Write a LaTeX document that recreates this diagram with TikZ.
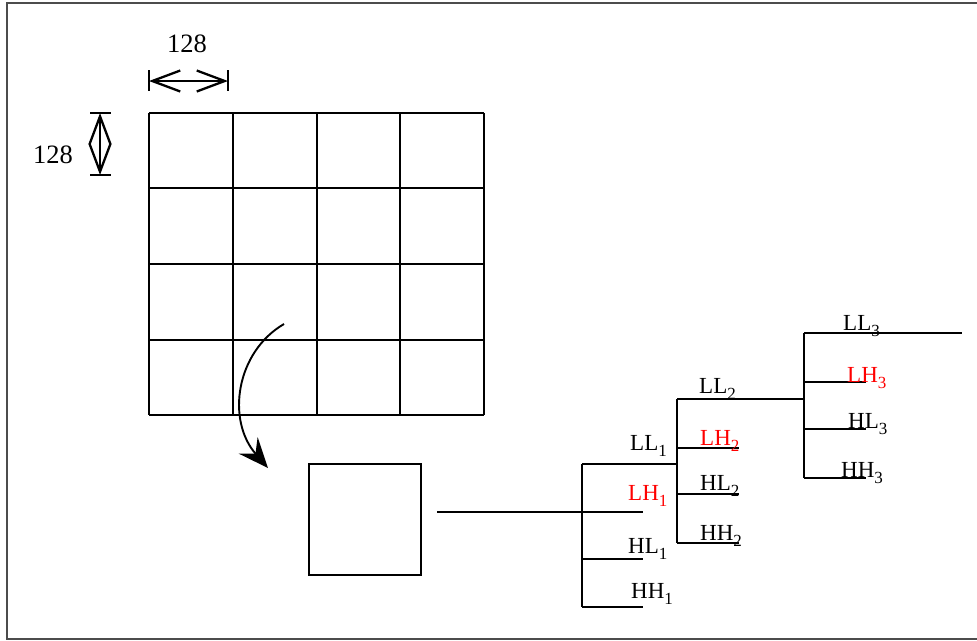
\documentclass[tikz,border=0pt]{standalone}
\usepackage{fontspec}
\setmainfont{Liberation Serif}
\usetikzlibrary{arrows.meta}
\newcommand\sbs[1]{\raisebox{-0.3em}{\fontsize{17}{17}\selectfont #1}}
\tikzset{
  ln/.style={line width=2.3pt},
  dimarrow/.style={line width=2.3pt,{Straight Barb[length=28pt,width=21pt]}-{Straight Barb[length=28pt,width=21pt]}},
  lab/.style={anchor=base west,inner sep=0pt,font=\fontsize{23}{23}\selectfont},
  redlab/.style={lab,text=red},
  dimlab/.style={anchor=base west,inner sep=0pt,font=\fontsize{26.5}{26.5}\selectfont}
}
\begin{document}
\begin{tikzpicture}[x=1pt,y=-1pt]
\useasboundingbox (0,0) rectangle (977,640);
% frame
\draw[line width=1.8pt,black!70] (985,3) -- (7,3) -- (7,639) -- (985,639);
% grid
\foreach \x in {149,233,317,400,484} \draw[ln] (\x,113) -- (\x,415);
\foreach \y in {113,188,264,340,415} \draw[ln] (149,\y) -- (484,\y);
% dimension marks
\coordinate (h1) at (149,81); \coordinate (h2) at (228,81);
\draw[ln] (149,70) -- (149,91); \draw[ln] (228,70) -- (228,91);
\draw[dimarrow] (h1) -- (h2);
\node[dimlab] (t1) at (167,52) {128};
\coordinate (v1) at (100,113); \coordinate (v2) at (100,175);
\draw[ln] (90,113) -- (111,113); \draw[ln] (90,175) -- (111,175);
\draw[dimarrow] (v1) -- (v2);
\node[dimlab] (t2) at (33,163) {128};
% curved arrow
\coordinate (cs) at (284,324); \coordinate (ce) at (268,468);
\draw[line width=1.9pt,-{Stealth[length=30pt,width=25pt,inset=11pt]}] (cs) .. controls (236,352) and (226,420) .. (ce);
% small block
\node[draw,line width=2.3pt,minimum width=112pt,minimum height=111pt,inner sep=0pt] (blk) at (365,519.5) {};
% tree level 1
\coordinate (in0) at (437,512);
\coordinate (v1t) at (582,464); \coordinate (v1b) at (582,607);
\draw[ln] (in0) -- (582,512);
\draw[ln] (v1t) -- (v1b);
\draw[ln] (582,512) -- (643,512);
\draw[ln] (582,559) -- (643,559);
\draw[ln] (582,607) -- (643,607);
% level 2
\coordinate (v2t) at (677,399); \coordinate (v2b) at (677,543);
\draw[ln] (v1t) -- (677,464);
\draw[ln] (v2t) -- (v2b);
\draw[ln] (677,448) -- (739,448);
\draw[ln] (677,494) -- (739,494);
\draw[ln] (677,543) -- (739,543);
% level 3
\coordinate (v3t) at (804,333); \coordinate (v3b) at (804,478);
\draw[ln] (v2t) -- (804,399);
\draw[ln] (v3t) -- (v3b);
\draw[ln] (v3t) -- (962,333);
\draw[ln] (804,382) -- (866,382);
\draw[ln] (804,429) -- (866,429);
\draw[ln] (804,478) -- (866,478);
% labels
\node[lab] (ll1) at (630,450) {LL\sbs{1}};
\node[redlab] (lh1) at (628,500) {LH\sbs{1}};
\node[lab] (hl1) at (628,553) {HL\sbs{1}};
\node[lab] (hh1) at (631,598) {HH\sbs{1}};
\node[lab] (ll2) at (699,393) {LL\sbs{2}};
\node[redlab] (lh2) at (700,445) {LH\sbs{2}};
\node[lab] (hl2) at (700,490) {HL\sbs{2}};
\node[lab] (hh2) at (700,540) {HH\sbs{2}};
\node[lab] (ll3) at (843,330) {LL\sbs{3}};
\node[redlab] (lh3) at (847,382) {LH\sbs{3}};
\node[lab] (hl3) at (848,428) {HL\sbs{3}};
\node[lab] (hh3) at (841,477) {HH\sbs{3}};
\end{tikzpicture}
\end{document}
